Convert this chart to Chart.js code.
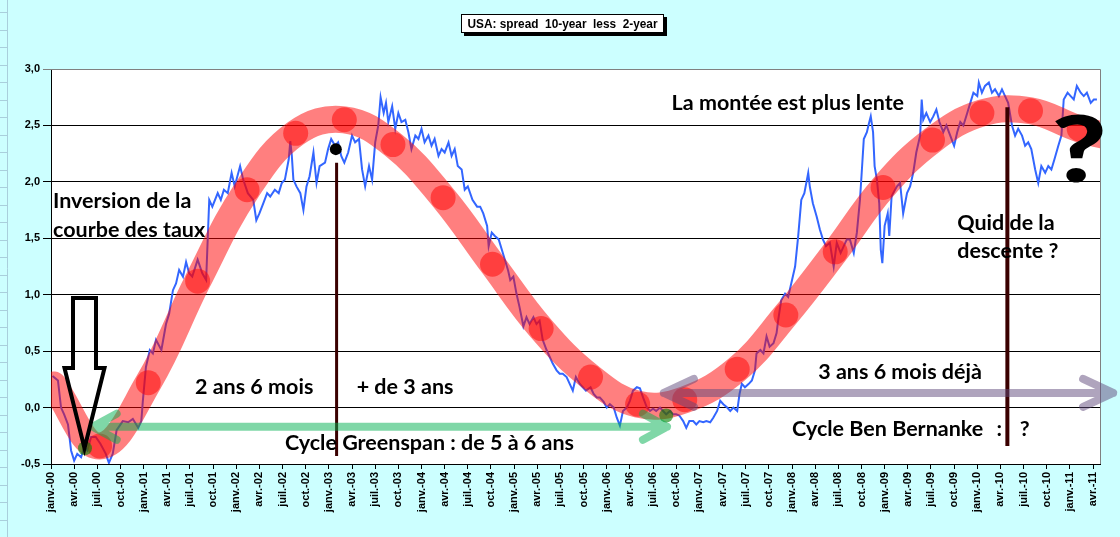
<!DOCTYPE html>
<html><head><meta charset="utf-8">
<script src="https://cdn.jsdelivr.net/npm/chart.js@4.4.1/dist/chart.umd.min.js"></script>
<style>html,body{margin:0;padding:0;background:#ccffff;overflow:hidden}#wrap{width:1120px;height:537px;position:relative}</style>
</head><body><div id="wrap"><canvas id="c" width="1120" height="537"></canvas></div>
<script>
// ---------- DATA ----------
const chartTitle = 'USA: spread  10-year  less  2-year';
const tickLabels = [
 'janv.-00','avr.-00','juil.-00','oct.-00','janv.-01','avr.-01','juil.-01','oct.-01',
 'janv.-02','avr.-02','juil.-02','oct.-02','janv.-03','avr.-03','juil.-03','oct.-03',
 'janv.-04','avr.-04','juil.-04','oct.-04','janv.-05','avr.-05','juil.-05','oct.-05',
 'janv.-06','avr.-06','juil.-06','oct.-06','janv.-07','avr.-07','juil.-07','oct.-07',
 'janv.-08','avr.-08','juil.-08','oct.-08','janv.-09','avr.-09','juil.-09','oct.-09',
 'janv.-10','avr.-10','juil.-10','oct.-10','janv.-11','avr.-11'];
const tickMonths = tickLabels.map((_, i) => 3 * i);   // months since janv. 2000

// spread 10-year less 2-year (months since janv. 2000, %)
const spreadMonths = [
 0.2,0.9,1.3,1.7,2.2,2.6,3.0,3.4,3.9,4.3,4.7,5.2,5.8,6.4,7.1,7.5,8.0,8.5,8.9,9.3,10.0,10.6,11.3,11.7,11.9,12.3,12.8,13.2,13.6,14.3,14.9,15.3,15.8,16.2,16.6,17.1,17.5,17.9,18.3,19.0,19.6,20.1,20.3,20.5,20.9,21.6,22.0,22.4,22.9,23.4,23.8,24.5,24.9,25.5,26.2,26.6,27.0,
 27.5,28.0,28.4,29.0,29.5,29.9,30.3,30.8,31.0,31.2,31.4,31.8,32.3,32.7,33.1,33.5,34.0,34.4,34.8,35.5,35.9,36.3,36.8,37.2,37.6,38.0,38.5,39.0,39.4,39.9,40.3,40.7,41.2,41.6,42.0,42.4,42.7,43.1,43.4,43.7,44.2,44.6,45.0,45.4,45.9,46.3,46.7,47.2,47.6,48.0,48.4,48.9,49.3,49.7,50.2,50.6,51.0,51.5,51.9,52.3,52.7,53.2,53.6,54.0,
 54.6,55.2,55.6,56.0,56.5,56.7,57.1,57.5,58.0,58.4,58.8,59.2,59.5,59.9,60.3,60.7,61.2,61.6,62.0,62.5,62.9,63.3,63.7,64.2,64.6,65.0,65.5,65.9,66.3,66.8,67.2,67.6,68.0,68.5,68.9,69.3,69.9,70.3,70.7,71.1,71.6,72.0,72.4,72.9,73.3,73.7,74.1,74.6,75.0,75.4,75.9,76.3,76.7,77.2,77.6,78.0,78.4,78.9,79.3,79.7,80.2,80.6,81.0,81.4,
 81.9,82.3,82.7,83.2,83.6,84.0,84.5,84.9,85.4,85.8,86.3,86.7,87.1,87.6,88.0,88.4,88.9,89.2,89.5,89.9,90.4,90.8,91.2,91.4,91.9,92.3,92.7,93.1,93.6,94.0,94.2,94.6,95.1,95.5,95.9,96.4,96.8,97.2,97.6,98.1,98.3,98.7,99.2,99.6,100.0,100.4,100.9,101.4,101.8,102.3,102.7,103.1,103.5,104.0,104.4,104.8,105.0,105.3,105.7,105.9,106.2,106.5,106.7,107.0,107.3,107.5,107.7,108.0,108.4,108.6,108.9,
 109.1,109.6,110.0,110.4,110.9,111.3,111.7,112.1,112.6,112.8,113.0,113.4,113.9,114.3,114.7,115.1,115.6,116.0,116.5,117.0,117.4,117.8,118.2,118.7,119.1,119.5,120.0,120.2,120.6,121.0,121.5,121.9,122.3,122.8,123.2,123.6,124.0,124.5,124.9,125.3,125.8,126.2,126.6,127.0,127.5,127.9,128.3,128.8,129.2,129.6,130.0,130.5,130.9,131.2,131.7,132.1,132.5,132.9,133.4,133.8,134.2,134.7,135.1,135.5];
const spreadValues = [
 0.28,0.24,0.00,-0.06,-0.15,-0.38,-0.47,-0.41,-0.44,-0.35,-0.38,-0.26,-0.26,-0.32,-0.41,-0.49,-0.41,-0.20,-0.16,-0.12,-0.13,-0.10,-0.18,-0.12,0.06,0.36,0.51,0.48,0.60,0.51,0.74,0.83,1.04,1.10,1.22,1.16,1.29,1.19,1.16,1.31,1.19,1.13,1.49,1.84,1.78,1.90,1.84,1.93,1.90,2.08,1.96,2.14,2.02,1.90,1.84,1.66,1.72,
 1.81,1.90,1.87,1.93,1.90,1.99,2.02,2.20,2.36,2.23,2.02,1.96,1.90,1.75,1.96,2.05,2.26,1.99,2.14,2.17,2.29,2.38,2.32,2.35,2.23,2.17,2.26,2.41,2.35,2.38,2.11,1.96,2.14,2.02,2.35,2.50,2.75,2.61,2.70,2.53,2.67,2.47,2.61,2.53,2.55,2.44,2.29,2.41,2.38,2.47,2.35,2.41,2.32,2.38,2.23,2.29,2.26,2.35,2.23,2.29,2.14,2.11,1.93,1.96,
 1.84,1.78,1.78,1.72,1.61,1.43,1.55,1.52,1.49,1.40,1.31,1.22,1.13,1.16,1.01,0.89,0.72,0.80,0.74,0.80,0.74,0.77,0.60,0.51,0.45,0.39,0.33,0.30,0.30,0.27,0.21,0.15,0.27,0.21,0.18,0.15,0.18,0.12,0.09,0.09,0.05,0.00,0.03,0.00,-0.09,-0.16,-0.03,0.00,0.06,0.15,0.18,0.17,0.09,0.00,-0.03,-0.01,-0.03,0.00,-0.03,-0.06,-0.03,-0.06,-0.06,-0.07,
 -0.12,-0.18,-0.12,-0.12,-0.15,-0.12,-0.13,-0.12,-0.13,-0.09,-0.03,0.06,0.03,0.00,-0.03,0.00,-0.03,0.12,0.21,0.18,0.21,0.24,0.33,0.48,0.51,0.48,0.63,0.54,0.57,0.66,0.77,0.95,1.01,0.98,1.10,1.25,1.52,1.84,1.90,2.08,1.96,1.81,1.69,1.58,1.49,1.43,1.46,1.25,1.46,1.37,1.43,1.49,1.49,1.37,1.55,1.84,2.05,2.38,2.44,2.50,2.58,2.44,2.14,2.02,1.81,1.40,1.28,1.61,1.72,1.52,1.87,
 1.90,1.96,1.99,1.72,1.90,1.96,2.08,2.26,2.41,2.73,2.55,2.61,2.53,2.58,2.64,2.53,2.44,2.50,2.41,2.32,2.44,2.53,2.50,2.61,2.70,2.79,2.76,2.88,2.79,2.85,2.88,2.79,2.82,2.76,2.82,2.76,2.70,2.50,2.41,2.47,2.41,2.32,2.35,2.29,2.11,1.99,2.14,2.08,2.14,2.11,2.20,2.32,2.41,2.73,2.79,2.76,2.73,2.85,2.79,2.76,2.79,2.70,2.73,2.73];

// hand-drawn cycle (red band) and its semi-annual dots
const trendMonths = [0.3,6.3,12.6,19.0,25.4,31.7,38.0,44.3,50.8,57.2,63.5,69.9,76.0,82.1,88.9,95.2,101.6,107.8,114.2,120.6,126.9,133.2,138.5];
const trendValues = [0.20,-0.34,0.22,1.12,1.93,2.43,2.55,2.33,1.86,1.27,0.70,0.27,0.03,0.07,0.34,0.82,1.38,1.95,2.37,2.61,2.63,2.47,2.38];
const dotMonths = trendMonths.slice(1, -1);
const dotValues = trendValues.slice(1, -1);

// cycle start / end marks, peak mark
const cycleMarkMonths = [4.4, 79.7];
const cycleMarkValues = [-0.36, -0.07];
const peakMarkMonths = [36.9];
const peakMarkValues = [2.29];

// vertical markers
const markerMonths = [37.0, 123.9];
const markerTops = [2.17, 2.66];
const markerBottoms = [-0.43, -0.34];

// arrows (months / values)
const greenArrow = {from: 5.4, to: 79.8, value: -0.17};
const greyArrow = {from: 79.4, to: 137.6, value: 0.13};
const downArrow = {month: 4.34, top: 0.97, headBase: 0.35, tip: -0.36};

// text notes
const noteTexts  = ['Inversion de la','courbe des taux','2 ans 6 mois','+ de 3 ans','Cycle Greenspan : de 5 à 6 ans','La montée est plus lente','Quid de la','descente ?','3 ans 6 mois déjà','Cycle Ben Bernanke',':','?','?'];
const noteMonths = [0.26,0.26,18.65,39.6,30.3,80.4,117.4,117.4,99.4,96.0,122.5,125.5,129.6];
const noteValues = [1.764,1.507,0.124,0.124,-0.372,2.633,1.569,1.321,0.257,-0.248,-0.248,-0.248,1.995];
const noteBig    = [false,false,false,false,false,false,false,false,false,false,false,false,true];

// ---------- DRAWING ----------
const NOTE_FONT = 'Lato, "Open Sans", sans-serif';
const pts = (xs, ys) => xs.map((x, i) => ({x, y: ys[i]}));

const overlay = {
  id: 'overlay',
  beforeDraw(chart) {
    const {ctx, chartArea: a} = chart;
    ctx.save();
    ctx.fillStyle = '#ccffff';
    ctx.fillRect(0, 0, chart.width, chart.height);
    ctx.strokeStyle = '#a9cfdc'; ctx.lineWidth = 1;
    ctx.beginPath(); ctx.moveTo(7.5, 0); ctx.lineTo(7.5, chart.height); ctx.stroke();
    for (let yy = 12; yy < chart.height; yy += 17.5) { ctx.beginPath(); ctx.moveTo(0, Math.round(yy) + .5); ctx.lineTo(7, Math.round(yy) + .5); ctx.stroke(); }
    ctx.fillStyle = '#ffffff';
    ctx.fillRect(a.left, a.top, a.right - a.left, a.bottom - a.top);
    ctx.restore();
  },
  afterDatasetsDraw(chart) {
    const {ctx, chartArea: a, scales: {x, y}} = chart;
    ctx.save();
    ctx.strokeStyle = '#808080'; ctx.lineWidth = 1;
    ctx.beginPath(); ctx.moveTo(a.left, a.top + .5); ctx.lineTo(a.right + .5, a.top + .5); ctx.lineTo(a.right + .5, a.bottom); ctx.stroke();

    const dbl = (ar, color, lw, back, half) => {
      const x1 = x.getPixelForValue(ar.from), x2 = x.getPixelForValue(ar.to), yy = y.getPixelForValue(ar.value);
      ctx.strokeStyle = color; ctx.lineWidth = lw; ctx.lineCap = 'round'; ctx.lineJoin = 'round';
      ctx.beginPath();
      ctx.moveTo(x1 + back, yy - half); ctx.lineTo(x1, yy); ctx.lineTo(x1 + back, yy + half);
      ctx.moveTo(x1, yy); ctx.lineTo(x2, yy);
      ctx.moveTo(x2 - back, yy - half); ctx.lineTo(x2, yy); ctx.lineTo(x2 - back, yy + half);
      ctx.stroke();
    };
    dbl(greenArrow, 'rgba(0,176,80,0.5)', 8, 24, 13);
    dbl(greyArrow, 'rgba(96,74,123,0.5)', 8, 30, 14);

    const cx = x.getPixelForValue(downArrow.month);
    const yt = y.getPixelForValue(downArrow.top), yb = y.getPixelForValue(downArrow.headBase), yp = y.getPixelForValue(downArrow.tip);
    const sw = 11.5, hw = 20;
    ctx.strokeStyle = '#000'; ctx.lineWidth = 4; ctx.lineJoin = 'miter'; ctx.lineCap = 'butt';
    ctx.beginPath();
    ctx.moveTo(cx - sw, yt); ctx.lineTo(cx + sw, yt); ctx.lineTo(cx + sw, yb); ctx.lineTo(cx + hw, yb);
    ctx.lineTo(cx, yp); ctx.lineTo(cx - hw, yb); ctx.lineTo(cx - sw, yb); ctx.closePath();
    ctx.stroke();

    ctx.fillStyle = '#000'; ctx.textAlign = 'left'; ctx.textBaseline = 'alphabetic';
    noteTexts.forEach((t, i) => {
      const px = x.getPixelForValue(noteMonths[i]), py = y.getPixelForValue(noteValues[i]);
      if (noteBig[i]) {
        ctx.save();
        ctx.font = `900 92px ${NOTE_FONT}`;
        ctx.translate(px, py); ctx.scale(1.3, 1);
        ctx.fillText(t, 0, 0);
        ctx.restore();
      } else {
        ctx.font = `bold 21.5px ${NOTE_FONT}`;
        ctx.fillText(t, px, py);
      }
    });

    ctx.font = 'bold 13px "Liberation Sans Narrow","Liberation Sans",Arial,sans-serif';
    const tw = ctx.measureText(chartTitle).width;
    const bx = 461, by = 14, bw = 203, bh = 19;
    ctx.fillStyle = '#000'; ctx.fillRect(bx + 3, by + 3, bw, bh);
    ctx.fillStyle = '#fff'; ctx.fillRect(bx, by, bw, bh);
    ctx.strokeStyle = '#000'; ctx.lineWidth = 1; ctx.strokeRect(bx + .5, by + .5, bw - 1, bh - 1);
    ctx.save();
    ctx.translate(bx + bw / 2, by + 14);
    ctx.scale(Math.min(1, 190 / tw), 1);
    ctx.fillStyle = '#000'; ctx.textAlign = 'center';
    ctx.fillText(chartTitle, 0, 0);
    ctx.restore();
    ctx.restore();
  }
};

const datasets = [
  {data: pts(spreadMonths, spreadValues), borderColor: '#3366ff', borderWidth: 2, pointRadius: 0, tension: 0, order: 6},
  {data: pts(trendMonths, trendValues), borderColor: 'rgba(255,0,0,0.5)', borderWidth: 27, borderCapStyle: 'round', pointRadius: 0, tension: 0.4, order: 5},
  {data: pts(dotMonths, dotValues), showLine: false, pointRadius: 12.5, pointBackgroundColor: 'rgba(255,0,0,0.5)', pointBorderWidth: 0, order: 4},
  {data: pts(cycleMarkMonths, cycleMarkValues), showLine: false, pointRadius: 7, pointBackgroundColor: 'rgba(0,128,0,0.6)', pointBorderWidth: 0, order: 3},
  {data: pts(peakMarkMonths, peakMarkValues), showLine: false, pointRadius: 6, pointBackgroundColor: '#000', pointBorderWidth: 0, order: 3},
  {data: pts([markerMonths[0], markerMonths[0]], [markerTops[0], markerBottoms[0]]), borderColor: '#3a0000', borderWidth: 3, pointRadius: 0, order: 1},
  {data: pts([markerMonths[1], markerMonths[1]], [markerTops[1], markerBottoms[1]]), borderColor: '#3a0000', borderWidth: 4, pointRadius: 0, order: 1}
];

new Chart(document.getElementById('c'), {
  type: 'line',
  data: {datasets},
  options: {
    responsive: false, animation: false, devicePixelRatio: 1,
    layout: {padding: {left: 0, right: 20, top: 69, bottom: 0}},
    plugins: {legend: {display: false}, tooltip: {enabled: false}, title: {display: false}},
    scales: {
      x: {
        type: 'linear', min: 0, max: 135.9,
        afterBuildTicks: s => { s.ticks = tickMonths.map(v => ({value: v})); },
        afterFit: s => { s.height = 73; },
        grid: {display: true, drawOnChartArea: false, drawTicks: true, tickLength: 5, color: '#000'},
        border: {display: true, color: '#000', width: 1},
        ticks: {autoSkip: false, maxRotation: 90, minRotation: 90, padding: 3, color: '#000',
                font: {family: '"Liberation Sans", Arial, sans-serif', size: 11, weight: 'bold'},
                callback: (v, i) => tickLabels[i]}
      },
      y: {
        min: -0.5, max: 3.0,
        afterFit: s => { s.width = 51; },
        grid: {color: c => (c.tick && c.tick.value === 3 ? '#808080' : '#000'), lineWidth: 1, tickLength: 8},
        border: {display: true, color: '#000', width: 1},
        ticks: {stepSize: 0.5, padding: 3, color: '#000',
                font: {family: '"Liberation Sans", Arial, sans-serif', size: 11, weight: 'bold'},
                callback: v => v.toFixed(1).replace('.', ',')}
      }
    }
  },
  plugins: [overlay]
});
</script></body></html>
